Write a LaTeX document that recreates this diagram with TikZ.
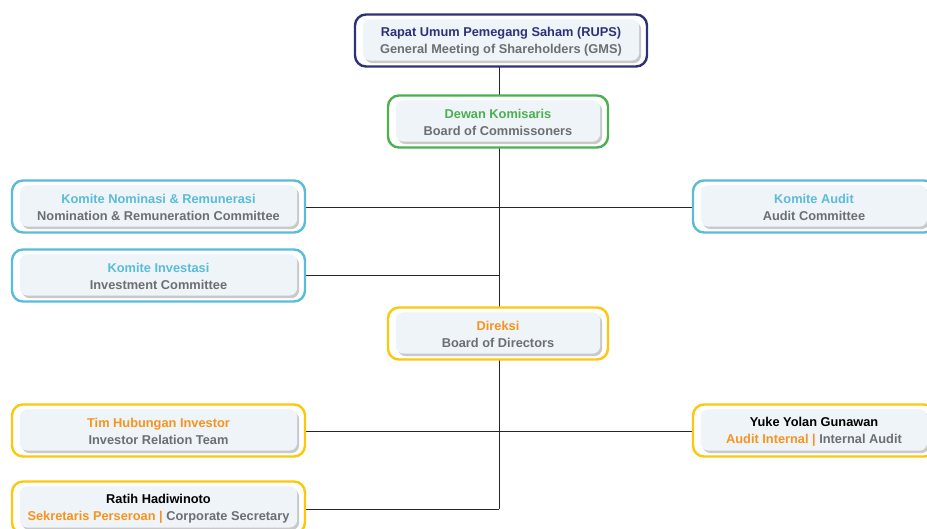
\documentclass[tikz,border=0pt]{standalone}
\usepackage{fontspec}
\setmainfont{Liberation Sans}
\usetikzlibrary{shadows,calc}
\definecolor{navy}{HTML}{2E3178}
\definecolor{gtext}{HTML}{6D6E71}
\definecolor{grn}{HTML}{4CAF50}
\definecolor{cyn}{HTML}{5BBCD9}
\definecolor{yel}{HTML}{FDC80B}
\definecolor{org}{HTML}{F7941D}
\definecolor{inner}{HTML}{EEF4F8}
\tikzset{
  outerbox/.style={draw=#1, line width=2.4pt, rounded corners=11pt, fill=white, minimum height=52pt, inner sep=0pt},
  innerbox/.style={fill=inner, rounded corners=8pt, drop shadow={shadow xshift=2pt, shadow yshift=-2.5pt, opacity=0.35, fill=black!60}},
  link/.style={draw=black!85, line width=0.7pt},
  txt/.style={font=\bfseries\fontsize{12.8}{16.8}\selectfont, align=center, text=gtext, inner sep=0pt}
}
\newcommand{\orgbox}[5]{%
  \node[outerbox=#4, minimum width=#3] (#1) at #2 {};
  \fill[innerbox] ($(#1.north west)+(9pt,-6pt)$) rectangle ($(#1.south east)+(-9pt,7pt)$);
  \node[txt] (#1-t) at ($#2+(0,1)$) {#5};
}
\begin{document}
\begin{tikzpicture}[x=1pt,y=-1pt]
\useasboundingbox (0,0) rectangle (927,528);
% connectors
\coordinate (j1) at (499,275);
\coordinate (j2) at (499,509);
\draw[link] (499,67) -- (499,95);
\draw[link] (499,148) -- (499,307);
\draw[link] (499,360) -- (j2);
\draw[link] (305,207) -- (693,207);
\draw[link] (305,275) -- (j1);
\draw[link] (305,431) -- (693,431);
\draw[link] (305,509) -- (j2);
% boxes
\orgbox{rups}{(501,40.5)}{292pt}{navy}{\textcolor{navy}{Rapat Umum Pemegang Saham (RUPS)}\\General Meeting of Shareholders (GMS)}
\orgbox{dk}{(498,121.5)}{220pt}{grn}{\textcolor{grn}{Dewan Komisaris}\\Board of Commissoners}
\orgbox{nom}{(158.5,206.5)}{293pt}{cyn}{\textcolor{cyn}{Komite Nominasi \& Remunerasi}\\Nomination \& Remuneration Committee}
\orgbox{aud}{(814,206.5)}{242pt}{cyn}{\textcolor{cyn}{Komite Audit}\\Audit Committee}
\orgbox{inv}{(158.5,275.5)}{293pt}{cyn}{\textcolor{cyn}{Komite Investasi}\\Investment Committee}
\orgbox{dir}{(498,333.5)}{220pt}{yel}{\textcolor{org}{Direksi}\\Board of Directors}
\orgbox{tim}{(158.5,430.5)}{293pt}{yel}{\textcolor{org}{Tim Hubungan Investor}\\Investor Relation Team}
\orgbox{yuk}{(814,430.5)}{242pt}{yel}{\textcolor{black}{Yuke Yolan Gunawan}\\\textcolor{org}{Audit Internal |} Internal Audit}
\orgbox{rat}{(158.5,507.5)}{293pt}{yel}{\textcolor{black}{Ratih Hadiwinoto}\\\textcolor{org}{Sekretaris Perseroan |} Corporate Secretary}
\end{tikzpicture}
\end{document}
